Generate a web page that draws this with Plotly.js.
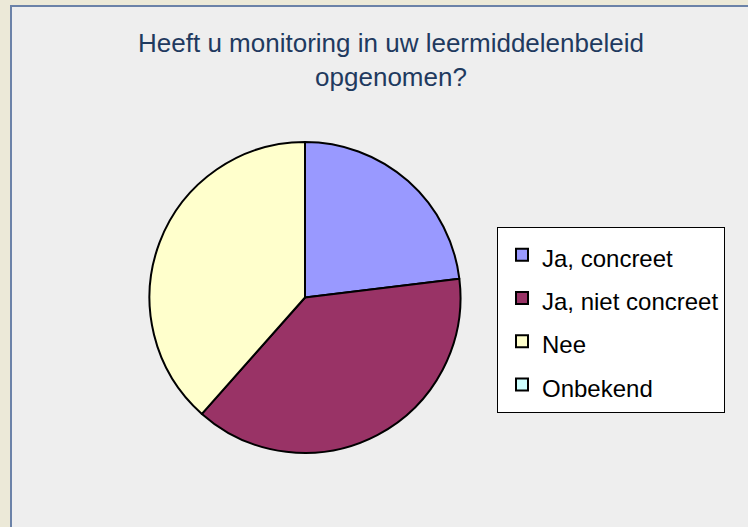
<!DOCTYPE html>
<html>
<head>
<meta charset="utf-8">
<script src="https://cdn.plot.ly/plotly-3.0.1.min.js"></script>
<style>
  html, body { margin: 0; padding: 0; width: 748px; height: 527px; overflow: hidden; background: #ece9d8; }
  #frame { position: absolute; left: 10px; top: 5px; width: 738px; height: 522px; background: #6b82a8; }
  #chart { position: absolute; left: 12px; top: 7px; width: 736px; height: 520px; }
</style>
</head>
<body>
<div id="frame"></div>
<div id="chart"></div>
<script>
const categories = ['Ja, concreet', 'Ja, niet concreet', 'Nee', 'Onbekend'];
const counts = [6, 10, 10, 0];
const sliceColors = ['#9999ff', '#993366', '#ffffcc', '#ccffff'];
const chartTitle = 'Heeft u monitoring in uw leermiddelenbeleid<br>opgenomen?';

const W = 736, H = 520;
// legend rows are spaced wider than the text size, so the row height comes from
// the legend font and the visible text size from an inline span
const legendLabels = categories.map(c => '<span style="font-size:24px">' + c + '</span>');

const trace = {
  type: 'pie',
  labels: legendLabels,
  values: counts,
  sort: false,
  direction: 'clockwise',
  rotation: 0,
  textinfo: 'none',
  hoverinfo: 'label+value+percent',
  marker: { colors: sliceColors, line: { color: '#000000', width: 2 } },
  domain: { x: [137.5 / W, 448.5 / W], y: [74 / H, 385 / H] }
};

const layout = {
  width: W, height: H,
  margin: { l: 0, r: 0, t: 0, b: 0 },
  paper_bgcolor: '#eeeeee',
  plot_bgcolor: '#eeeeee',
  font: { family: 'Liberation Sans, Arial, sans-serif', color: '#000000' },
  title: {
    text: chartTitle,
    font: { family: 'Liberation Sans, Arial, sans-serif', size: 26, color: '#1f3a5f' },
    x: 379 / W, xanchor: 'center', xref: 'container',
    y: 1 - 45 / H, yanchor: 'top', yref: 'container'
  },
  showlegend: true,
  legend: {
    x: 485 / W, xanchor: 'left',
    y: 1 - 220 / H, yanchor: 'top',
    bgcolor: '#ffffff', bordercolor: '#000000', borderwidth: 1,
    font: { family: 'Liberation Sans, Arial, sans-serif', size: 31, color: '#000000' },
    indentation: 4
  }
};

Plotly.newPlot('chart', [trace], layout, { displayModeBar: false, staticPlot: true });
</script>
</body>
</html>
